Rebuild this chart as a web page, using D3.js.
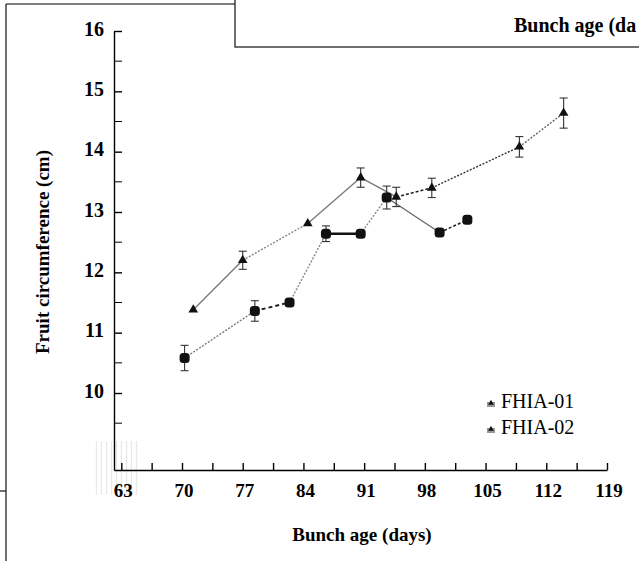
<!DOCTYPE html>
<html>
<head>
<meta charset="utf-8">
<script src="https://cdn.jsdelivr.net/npm/d3@7"></script>
<style>
  html, body { margin: 0; padding: 0; background: #fff; }
  svg { display: block; font-family: "Liberation Serif", "Times New Roman", serif; }
</style>
</head>
<body>
<div id="chart"></div>
<script>
// chart data
let seriesNames = ['FHIA-01', 'FHIA-02'];

let fhia01Days = [71.3, 77, 84.5, 90.6, 94.7, 98.8, 108.9, 114];
let fhia01Size = [11.38, 12.2, 12.81, 13.57, 13.25, 13.4, 14.08, 14.64];
let fhia01Err  = [0.03, 0.15, 0.04, 0.16, 0.16, 0.16, 0.17, 0.25];

let fhia02Days = [70.3, 78.4, 82.4, 86.6, 90.6, 93.6, 99.7, 102.9];
let fhia02Size = [10.58, 11.36, 11.5, 12.64, 12.64, 13.24, 12.66, 12.87];
let fhia02Err  = [0.21, 0.17, 0.02, 0.13, 0.02, 0.19, 0.01, 0.03];

let xTickLabels = [63, 70, 77, 84, 91, 98, 105, 112, 119];
let yTickLabels = [10, 11, 12, 13, 14, 15, 16];

let width = 639, height = 561;

let svg = d3.select('#chart').append('svg')
    .attr('width', width)
    .attr('height', height);

// scales (axis line starts a little left of the 63 tick)
let x = d3.scaleLinear().domain([62.16, 119]).range([114, 607]);
let y = d3.scaleLinear().domain([8.724, 16]).range([470, 31]);

// --- scan artifacts: frame lines and the cut-off box at the top
svg.append('line')
    .attr('x1', 6).attr('y1', 4).attr('x2', 235).attr('y2', 4)
    .attr('stroke', '#555').attr('stroke-width', 1.5);
svg.append('line')
    .attr('x1', 6).attr('y1', 4).attr('x2', 6).attr('y2', height)
    .attr('stroke', '#222').attr('stroke-width', 1.3);
svg.append('line')
    .attr('x1', 0).attr('y1', 491).attr('x2', 6).attr('y2', 491)
    .attr('stroke', '#222').attr('stroke-width', 1.3);
svg.append('rect')
    .attr('x', 235).attr('y', -2).attr('width', 420).attr('height', 49)
    .attr('fill', '#fff').attr('stroke', '#222').attr('stroke-width', 1.3);
// the box holds a copy of the axis title, cut off by the page edge
svg.append('text')
    .attr('x', 514).attr('y', 27)
    .attr('dominant-baseline', 'middle')
    .attr('font-size', 20).attr('font-weight', 'bold')
    .text('Bunch age (da');

// faint texture near the origin
let defs = svg.append('defs');
let pat = defs.append('pattern')
    .attr('id', 'tex').attr('patternUnits', 'userSpaceOnUse')
    .attr('width', 5).attr('height', 4);
pat.append('path').attr('d', 'M1,0 L2,2 L1,4')
    .attr('fill', 'none').attr('stroke', '#e2e2e2').attr('stroke-width', 1);
svg.append('rect')
    .attr('x', 95).attr('y', 441).attr('width', 45).attr('height', 54)
    .attr('fill', 'url(#tex)');

// --- axes
let yAxis = d3.axisLeft(y)
    .tickValues(yTickLabels)
    .tickSizeInner(-8).tickSizeOuter(0).tickPadding(10)
    .tickFormat(d3.format('d'));
let gy = svg.append('g').attr('transform', 'translate(114,0)').call(yAxis);
gy.selectAll('.tick text').remove();
gy.append('g').selectAll('line')
    .data(d3.range(9.5, 16, 1))
    .join('line')
    .attr('x1', 0).attr('x2', 8)
    .attr('y1', d => y(d)).attr('y2', d => y(d))
    .attr('stroke', '#000');
gy.selectAll('.lab')
    .data(yTickLabels)
    .join('text')
    .attr('x', -10).attr('y', d => y(d))
    .attr('text-anchor', 'end').attr('dominant-baseline', 'middle')
    .attr('fill', '#000')
    .attr('font-size', 20).attr('font-weight', 'bold')
    .attr('font-family', '"Liberation Serif", "Times New Roman", serif')
    .text(d => d);

let xAxis = d3.axisBottom(x)
    .tickValues(d3.range(63, 119.01, 3.5))
    .tickSizeInner(-7).tickSizeOuter(0)
    .tickFormat('');
let gx = svg.append('g').attr('transform', 'translate(0,470)').call(xAxis);
gx.selectAll('.lab')
    .data(xTickLabels)
    .join('text')
    .attr('x', d => x(d) + 2).attr('y', 23)
    .attr('text-anchor', 'middle').attr('dominant-baseline', 'middle')
    .attr('fill', '#000')
    .attr('font-size', 19).attr('font-weight', 'bold')
    .attr('font-family', '"Liberation Serif", "Times New Roman", serif')
    .text(d => d);

svg.selectAll('.domain, .tick line')
    .attr('stroke', '#000').attr('stroke-width', 1.4);

// axis titles
svg.append('text')
    .attr('x', 362).attr('y', 537)
    .attr('text-anchor', 'middle').attr('dominant-baseline', 'middle')
    .attr('font-size', 19).attr('font-weight', 'bold')
    .text('Bunch age (days)');
svg.append('text')
    .attr('transform', 'translate(45,252) rotate(-90)')
    .attr('text-anchor', 'middle').attr('dominant-baseline', 'middle')
    .attr('font-size', 19).attr('font-weight', 'bold')
    .text('Fruit circumference (cm)');

// --- series
let s1 = fhia01Days.map((d, i) => ({ day: d, v: fhia01Size[i], e: fhia01Err[i] }));
let s2 = fhia02Days.map((d, i) => ({ day: d, v: fhia02Size[i], e: fhia02Err[i] }));

// the scan mixes dotted, dashed and solid pieces along each line
let segStyle1 = [
    { c: '#777', w: 1.3, dash: null },
    { c: '#888', w: 1.4, dash: '2,1.5' },
    { c: '#777', w: 1.3, dash: null },
    { c: '#777', w: 1.3, dash: null },
    { c: '#222', w: 1.6, dash: '3,2' },
    { c: '#333', w: 1.4, dash: '2,1.5' },
    { c: '#666', w: 1.4, dash: '2,1.5' }
];
let segStyle2 = [
    { c: '#777', w: 1.4, dash: '2,1.5' },
    { c: '#222', w: 2, dash: '4,3' },
    { c: '#888', w: 1.4, dash: '2,1.5' },
    { c: '#111', w: 2.4, dash: null },
    { c: '#888', w: 1.4, dash: '2,1.5' },
    { c: '#666', w: 1.3, dash: null },
    { c: '#222', w: 1.6, dash: '3,2' }
];

function drawSegments(data, styles) {
    let pairs = d3.pairs(data);
    svg.append('g').selectAll('line')
        .data(pairs)
        .join('line')
        .attr('x1', p => x(p[0].day)).attr('y1', p => y(p[0].v))
        .attr('x2', p => x(p[1].day)).attr('y2', p => y(p[1].v))
        .attr('stroke', (p, i) => styles[i].c)
        .attr('stroke-width', (p, i) => styles[i].w)
        .attr('stroke-dasharray', (p, i) => styles[i].dash);
}

function drawErrors(data) {
    let g = svg.append('g').selectAll('g')
        .data(data.filter(d => d.e > 0.05))
        .join('g')
        .attr('stroke', '#333').attr('stroke-width', 1.1);
    g.append('line')
        .attr('x1', d => x(d.day)).attr('x2', d => x(d.day))
        .attr('y1', d => y(d.v - d.e)).attr('y2', d => y(d.v + d.e));
    g.append('line')
        .attr('x1', d => x(d.day) - 4).attr('x2', d => x(d.day) + 4)
        .attr('y1', d => y(d.v + d.e)).attr('y2', d => y(d.v + d.e));
    g.append('line')
        .attr('x1', d => x(d.day) - 4).attr('x2', d => x(d.day) + 4)
        .attr('y1', d => y(d.v - d.e)).attr('y2', d => y(d.v - d.e));
}

drawSegments(s1, segStyle1);
drawSegments(s2, segStyle2);
drawErrors(s1);
drawErrors(s2);

let tri = d3.symbol().type(d3.symbolTriangle).size(40);
svg.append('g').selectAll('path')
    .data(s1)
    .join('path')
    .attr('d', tri)
    .attr('transform', d => `translate(${x(d.day)},${y(d.v)})`)
    .attr('fill', '#111');

svg.append('g').selectAll('rect')
    .data(s2)
    .join('rect')
    .attr('x', d => x(d.day) - 5).attr('y', d => y(d.v) - 5)
    .attr('width', 10).attr('height', 10)
    .attr('rx', 3.5)
    .attr('fill', '#111');

// --- legend
let legend = svg.append('g').selectAll('g')
    .data(seriesNames)
    .join('g')
    .attr('transform', (d, i) => `translate(491,${403 + i * 26})`);
legend.append('rect')
    .attr('x', -4).attr('y', -1).attr('width', 8).attr('height', 5)
    .attr('fill', '#999');
legend.append('path')
    .attr('d', d3.symbol().type(d3.symbolTriangle).size(14))
    .attr('fill', '#111');
legend.append('text')
    .attr('x', 10).attr('y', 0)
    .attr('dominant-baseline', 'middle')
    .attr('font-size', 20)
    .text(d => d);
</script>
</body>
</html>
